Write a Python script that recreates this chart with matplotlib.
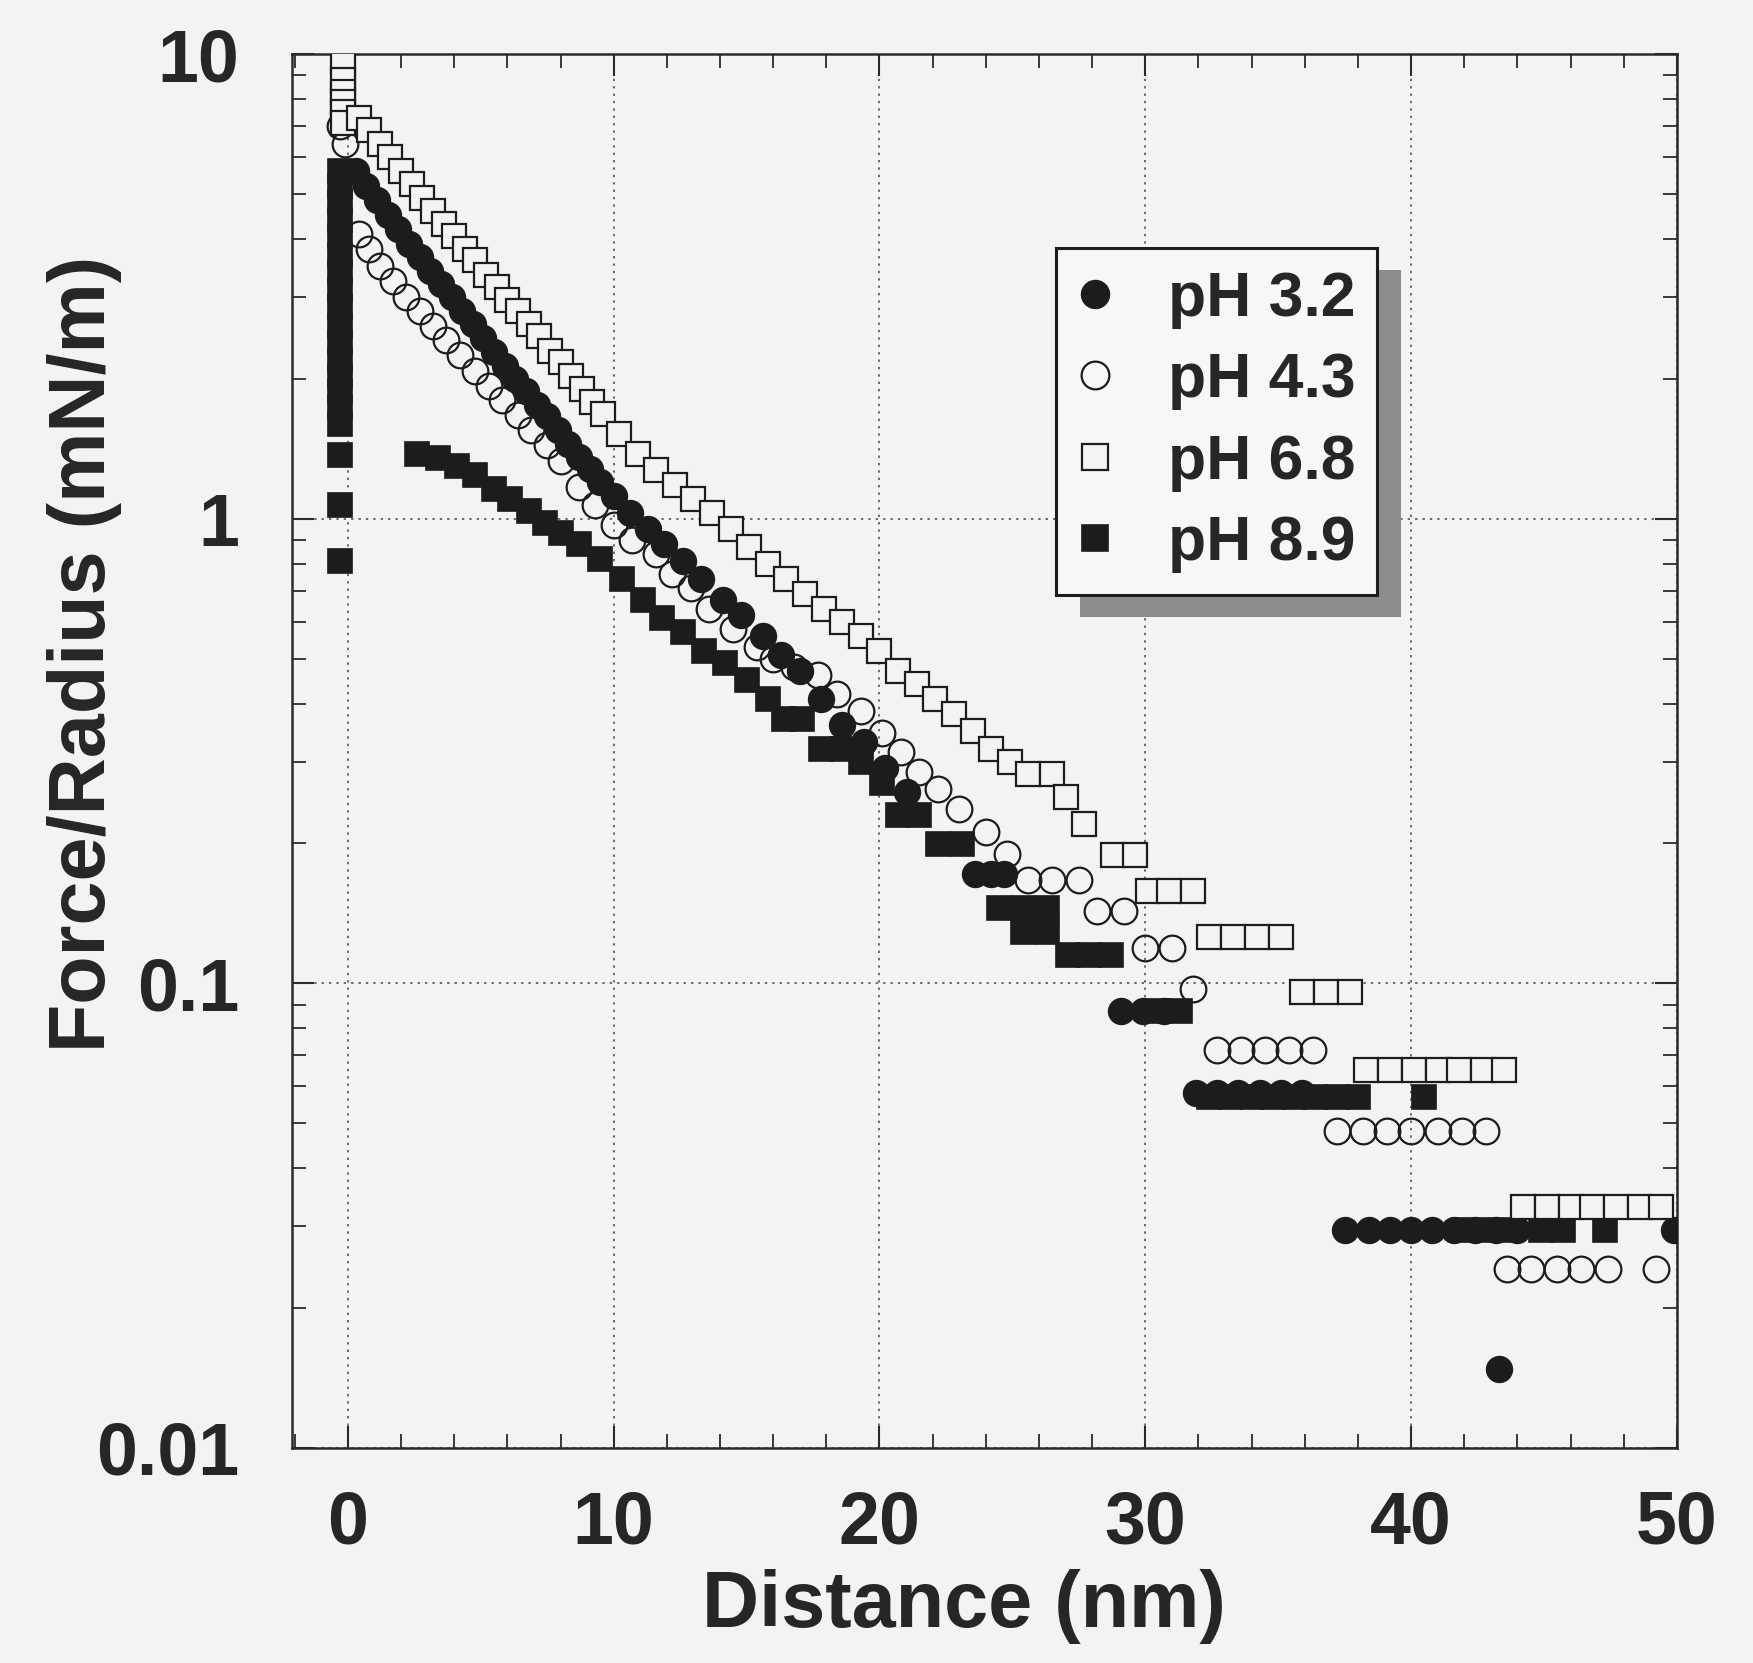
import numpy as np
import matplotlib.pyplot as plt
from matplotlib.patches import Rectangle
from matplotlib.ticker import MultipleLocator, LogLocator, NullFormatter

plt.rcParams['font.family'] = ['Liberation Sans', 'DejaVu Sans']
plt.rcParams['font.weight'] = 'bold'

BG = '#f3f3f1'
INK = '#1c1c1c'

# pH 3.2 (filled circles)
ph32_x = [0.3, 0.7, 1.1, 1.5, 1.9, 2.3, 2.7, 3.1, 3.5, 3.9,
          4.3, 4.7, 5.1, 5.5, 5.9, 6.3, 6.7, 7.1, 7.5, 7.9,
          8.3, 8.7, 9.1, 9.5, 10.0, 10.6, 11.3, 11.9,
          12.6, 13.3, 14.1, 14.8, 15.6, 16.3, 17.0, 17.8, 18.6, 19.4,
          20.2, 21.05, 23.6, 24.2, 24.7, 29.1, 29.9, 30.7,
          31.9, 32.7, 33.5, 34.3, 35.1, 35.9, 37.5,
          38.4, 39.2, 40.0, 40.8, 41.6, 42.4, 43.2, 44.0, 43.3, 49.9]
ph32_y = [5.6, 5.2, 4.85, 4.5, 4.2, 3.9, 3.65, 3.42, 3.2, 3.0,
          2.8, 2.62, 2.45, 2.28, 2.13, 2.0, 1.88, 1.76, 1.66, 1.55,
          1.45, 1.36, 1.28, 1.2, 1.12, 1.03, 0.95, 0.88,
          0.81, 0.74, 0.67, 0.62, 0.56, 0.51, 0.47, 0.41, 0.36, 0.33,
          0.29, 0.258, 0.172, 0.172, 0.172, 0.087, 0.087, 0.087,
          0.058, 0.058, 0.058, 0.058, 0.058, 0.058, 0.0294,
          0.0294, 0.0294, 0.0294, 0.0294, 0.0294, 0.0294, 0.0294, 0.0294, 0.0148, 0.0294]

# pH 4.3 (open circles)
ph43_x = [-0.3, -0.1, 0.4, 0.8, 1.2, 1.7, 2.2, 2.7, 3.2, 3.7, 4.2, 4.8,
          5.3, 5.8, 6.4, 6.9, 7.5, 8.0, 8.7, 9.3, 10.0, 10.7,
          11.6, 12.2, 12.9, 13.6, 14.5, 15.4, 16.0, 16.8, 17.7, 18.4,
          19.3, 20.1, 20.8, 21.5, 22.2, 23.0, 24.0, 24.8,
          25.6, 26.5, 27.5, 28.2, 29.2, 30.0, 31.0, 31.8,
          32.7, 33.6, 34.5, 35.4, 36.3,
          37.2, 38.2, 39.1, 40.0, 41.0, 41.9, 42.8,
          43.6, 44.5, 45.5, 46.4, 47.4, 49.2]
ph43_y = [7.0, 6.4, 4.1, 3.8, 3.5, 3.25, 3.0, 2.8, 2.6, 2.42, 2.25, 2.08,
          1.93, 1.8, 1.67, 1.55, 1.44, 1.33, 1.17, 1.07, 0.97, 0.90,
          0.84, 0.76, 0.71, 0.64, 0.58, 0.53, 0.50, 0.48, 0.46, 0.42,
          0.385, 0.345, 0.315, 0.285, 0.262, 0.237, 0.212, 0.19,
          0.167, 0.167, 0.167, 0.143, 0.143, 0.119, 0.119, 0.097,
          0.072, 0.072, 0.072, 0.072, 0.072,
          0.048, 0.048, 0.048, 0.048, 0.048, 0.048, 0.048,
          0.0243, 0.0243, 0.0243, 0.0243, 0.0243, 0.0243]

# pH 6.8 (open squares)
ph68_x = [-0.2, -0.2, -0.2, -0.2, -0.2, -0.2,
          0.4, 0.8, 1.2, 1.6, 2.0, 2.4, 2.8, 3.2, 3.6, 4.0, 4.4, 4.8,
          5.2, 5.6, 6.0, 6.4, 6.8, 7.2, 7.6, 8.0, 8.4, 8.8, 9.2, 9.6,
          10.2, 10.9, 11.6, 12.3, 13.0, 13.7, 14.4, 15.1, 15.8, 16.5, 17.2,
          17.9, 18.6, 19.3, 20.0, 20.7, 21.4, 22.1, 22.8, 23.5, 24.2, 24.9,
          25.6, 26.5, 27.0, 27.7, 28.8, 29.6, 30.1, 30.9, 31.8,
          32.4, 33.3, 34.2, 35.1, 35.9, 36.8, 37.7,
          38.3, 39.2, 40.1, 41.0, 41.8, 42.7, 43.5,
          44.2, 45.1, 46.0, 46.8, 47.7, 48.6, 49.4]
ph68_y = [9.6, 8.8, 8.3, 7.9, 7.5, 7.1,
          7.3, 6.85, 6.4, 6.0, 5.6, 5.25, 4.9, 4.6, 4.3, 4.05, 3.8, 3.6,
          3.35, 3.15, 2.95, 2.8, 2.62, 2.47, 2.3, 2.17, 2.03, 1.9, 1.78, 1.68,
          1.52, 1.38, 1.27, 1.18, 1.10, 1.03, 0.95, 0.87, 0.80, 0.74, 0.69,
          0.64, 0.60, 0.56, 0.52, 0.47, 0.44, 0.41, 0.38, 0.35, 0.32, 0.30,
          0.282, 0.282, 0.252, 0.22, 0.189, 0.189, 0.158, 0.158, 0.158,
          0.126, 0.126, 0.126, 0.126, 0.096, 0.096, 0.096,
          0.065, 0.065, 0.065, 0.065, 0.065, 0.065, 0.065,
          0.033, 0.033, 0.033, 0.033, 0.033, 0.033, 0.033]

# pH 8.9 (filled squares)
ph89_x = [-0.3, -0.3, -0.3, -0.3, -0.3, -0.3, -0.3, -0.3, -0.3, -0.3,
          -0.3, -0.3, -0.3, -0.3, -0.3, -0.3, -0.3, -0.3, -0.3,
          2.6, 3.4, 4.1, 4.8, 5.5, 6.1, 6.8, 7.4, 8.0, 8.7,
          9.5, 10.3, 11.1, 11.8, 12.6, 13.4, 14.2, 15.0, 15.8, 16.4,
          17.1, 17.8, 18.6, 19.3, 20.1, 20.7, 21.5, 22.2, 23.1,
          24.5, 25.4, 26.3, 25.4, 26.3, 27.1, 27.9, 28.7, 30.5, 31.3,
          32.4, 33.2, 34.0, 34.8, 35.6, 36.4, 37.2, 38.0, 40.5,
          42.0, 42.8, 43.6, 44.9, 45.7, 47.3]
ph89_y = [0.81, 1.07, 1.37, 1.6, 1.74, 1.88, 2.03, 2.2, 2.4, 2.6,
          2.85, 3.1, 3.4, 3.7, 4.05, 4.4, 4.8, 5.2, 5.6,
          1.38, 1.35, 1.30, 1.24, 1.16, 1.10, 1.04, 0.98, 0.93, 0.88,
          0.82, 0.74, 0.67, 0.61, 0.57, 0.52, 0.49, 0.45, 0.41, 0.37,
          0.37, 0.32, 0.32, 0.30, 0.27, 0.23, 0.23, 0.199, 0.199,
          0.145, 0.145, 0.145, 0.129, 0.129, 0.115, 0.115, 0.115, 0.087, 0.087,
          0.057, 0.057, 0.057, 0.057, 0.057, 0.057, 0.057, 0.057, 0.057,
          0.0294, 0.0294, 0.0294, 0.0294, 0.0294, 0.0294]

x_ticks = [0, 10, 20, 30, 40, 50]
y_ticks = [0.01, 0.1, 1, 10]
y_tick_labels = ['0.01', '0.1', '1', '10']

fig = plt.figure(figsize=(17.53, 16.63), dpi=100)
fig.patch.set_facecolor(BG)
ax = fig.add_axes([0.1666, 0.1293, 0.790, 0.8382])
ax.set_facecolor(BG)
ax.set_yscale('log')

ms_sq = 17
ms_ci = 18.5
l89, = ax.plot(ph89_x, ph89_y, 's', ms=ms_sq, mfc=INK, mec=INK, mew=1.2, zorder=3, label='pH 8.9')
l32, = ax.plot(ph32_x, ph32_y, 'o', ms=ms_ci, mfc=INK, mec=INK, mew=1.2, zorder=4, label='pH 3.2')
l43, = ax.plot(ph43_x, ph43_y, 'o', ms=ms_ci, mfc='none', mec=INK, mew=1.6, zorder=5, label='pH 4.3')
l68, = ax.plot(ph68_x, ph68_y, 's', ms=ms_sq, mfc=BG, mec=INK, mew=1.6, zorder=6, label='pH 6.8')

ax.set_xlim(-2.1, 50)
ax.set_ylim(0.01, 10)
ax.set_xticks(x_ticks)
ax.set_yticks(y_ticks, labels=y_tick_labels)
ax.xaxis.set_minor_locator(MultipleLocator(2))
ax.yaxis.set_minor_locator(LogLocator(base=10, subs=np.arange(2, 10)))
ax.yaxis.set_minor_formatter(NullFormatter())

ax.grid(True, which='major', linestyle=(0, (1.2, 2.6)), color='#6a6a6a', linewidth=1.4, zorder=1)
ax.set_axisbelow(True)

ax.tick_params(which='both', direction='in', top=True, right=True, colors='#2a2a2a')
ax.tick_params(which='major', length=16, width=1.5, labelsize=53, labelcolor='#262626')
ax.tick_params(axis='x', which='major', pad=30)
ax.tick_params(axis='y', which='major', pad=38)
ax.tick_params(which='minor', length=10, width=1.3)
for s in ax.spines.values():
    s.set_linewidth(1.8)
    s.set_color('#2a2a2a')

fig.text(0.048, 0.607, 'Force/Radius (mN/m)', rotation=90, ha='center', va='center',
         fontsize=57, fontweight='bold', color='#262626')
fig.text(0.55, 0.034, 'Distance (nm)', ha='center', va='center',
         fontsize=57, fontweight='bold', color='#262626')

leg = ax.legend(handles=[l32, l43, l68, l89], loc='upper left', bbox_to_anchor=(0.552, 0.861),
                borderaxespad=0, fontsize=45, frameon=True, fancybox=False,
                handlelength=0.54, handletextpad=0.89, borderpad=0.35, labelspacing=0.36,
                markerscale=1.08)
leg.set_zorder(10)
fr = leg.get_frame()
fr.set_edgecolor('#1c1c1c')
fr.set_linewidth(2.2)
fr.set_facecolor('#f7f7f5')
fr.set_alpha(1)
for t in leg.get_texts():
    t.set_color('#262626')

fig.canvas.draw()
bb = leg.get_window_extent().transformed(ax.transAxes.inverted())
dx = 24 / (0.790 * 1753)
dy = 22 / (0.8382 * 1663)
ax.add_patch(Rectangle((bb.x0 + dx, bb.y0 - dy), bb.width, bb.height, transform=ax.transAxes,
                       facecolor='#8c8c8c', edgecolor='none', zorder=9, clip_on=False))

fig.savefig('out.png', dpi=100, facecolor=BG)
